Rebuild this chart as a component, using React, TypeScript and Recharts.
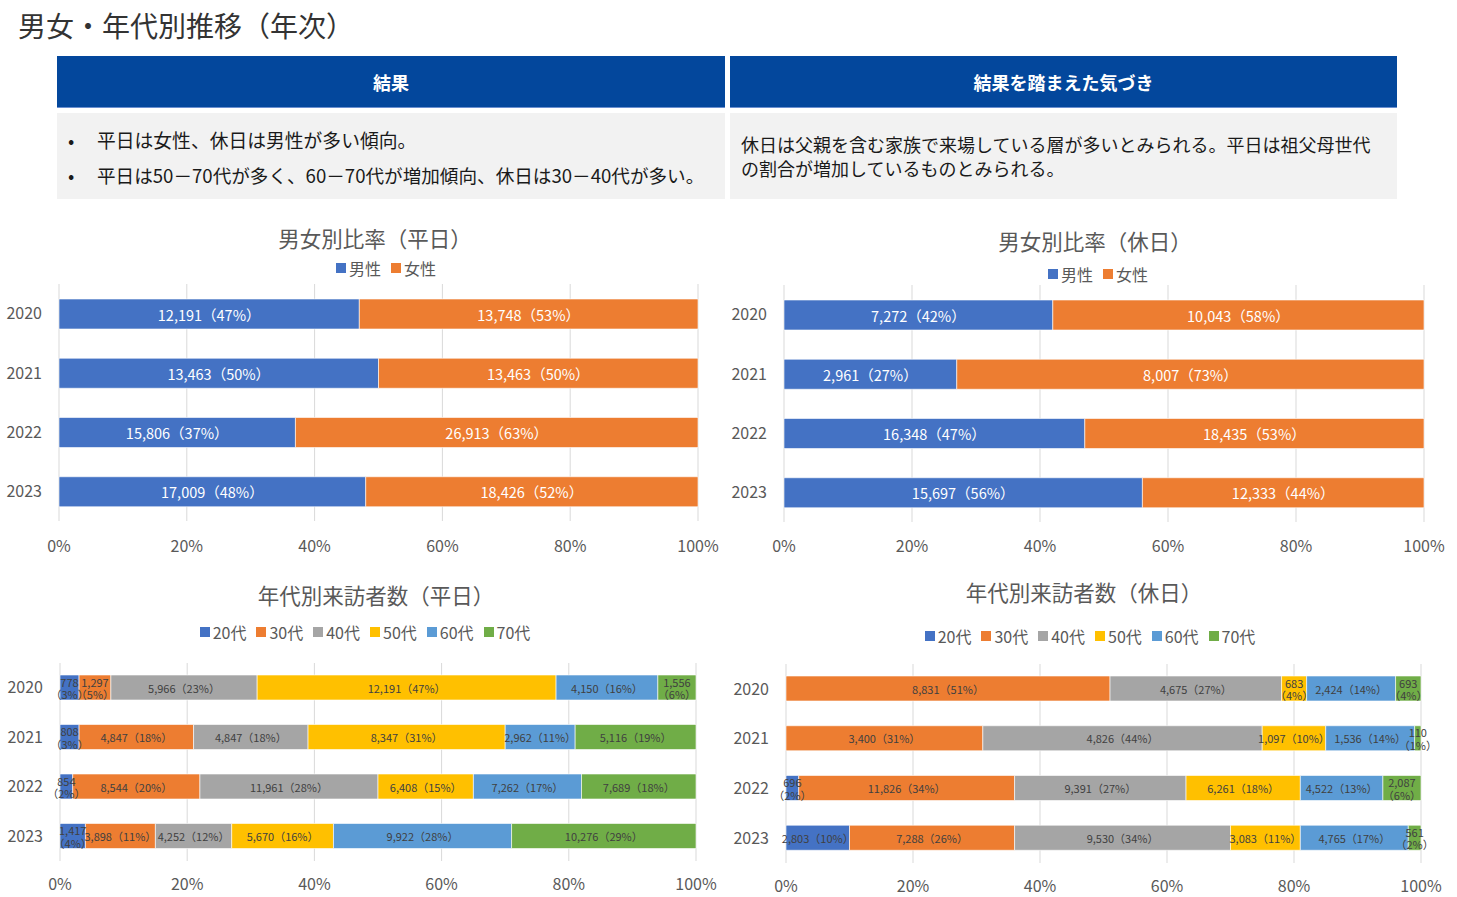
import React from 'react';
import { BarChart, Bar, XAxis, YAxis, CartesianGrid, LabelList } from 'recharts';

const FONT = "'Noto Sans CJK JP', 'Noto Sans', sans-serif";

// ---- data ----
const years = ['2020', '2021', '2022', '2023'];
const percentTicks = [0, 0.2, 0.4, 0.6, 0.8, 1];

const genderNames = ['男性', '女性'];
const weekdayMale = [12191, 13463, 15806, 17009];
const weekdayFemale = [13748, 13463, 26913, 18426];
const holidayMale = [7272, 2961, 16348, 15697];
const holidayFemale = [10043, 8007, 18435, 12333];

const ageNames = ['20代', '30代', '40代', '50代', '60代', '70代'];
const weekday20s = [778, 808, 854, 1417];
const weekday30s = [1297, 4847, 8544, 3898];
const weekday40s = [5966, 4847, 11961, 4252];
const weekday50s = [12191, 8347, 6408, 5670];
const weekday60s = [4150, 2962, 7262, 9922];
const weekday70s = [1556, 5116, 7689, 10276];
const holiday20s = [0, 0, 696, 2803];
const holiday30s = [8831, 3400, 11826, 7288];
const holiday40s = [4675, 4826, 9391, 9530];
const holiday50s = [683, 1097, 6261, 3083];
const holiday60s = [2424, 1536, 4522, 4765];
const holiday70s = [693, 110, 2087, 561];

const genderColors = ['#4472C4', '#ED7D31'];
const ageColors = ['#4472C4', '#ED7D31', '#A5A5A5', '#FFC000', '#5B9BD5', '#70AD47'];

type Row = { year: string; total: number; [k: string]: any };

function buildRows(series: number[][]): Row[] {
  return years.map((year, i) => {
    const row: Row = { year, total: 0 };
    series.forEach((s, j) => {
      row['s' + j] = s[i];
      row.total += s[i];
    });
    return row;
  });
}

const weekdayGenderRows = buildRows([weekdayMale, weekdayFemale]);
const holidayGenderRows = buildRows([holidayMale, holidayFemale]);
const weekdayAgeRows = buildRows([weekday20s, weekday30s, weekday40s, weekday50s, weekday60s, weekday70s]);
const holidayAgeRows = buildRows([holiday20s, holiday30s, holiday40s, holiday50s, holiday60s, holiday70s]);

function labelValue(row: Row, key: string): string {
  const v = row[key];
  if (!v) return '';
  const pct = Math.round((v / row.total) * 100);
  return `${v.toLocaleString('en-US')}|${pct}`;
}

function renderLabel(color: string, fontSize: number, wrapPct: number) {
  return (props: any) => {
    const val = props.value;
    if (!val || typeof val !== 'string') return null;
    const vb = props.viewBox && props.viewBox.width != null ? props.viewBox : props;
    const x = Number(vb.x), y = Number(vb.y), w = Number(vb.width), h = Number(vb.height);
    const [num, pctStr] = val.split('|');
    const pct = Number(pctStr);
    const cx = x + w / 2;
    const cy = y + h / 2;
    if (pct <= wrapPct) {
      return (
        <text textAnchor="middle" fill={color} fontSize={fontSize} fontFamily={FONT}>
          <tspan x={cx} y={cy - 6} dominantBaseline="central">{num}</tspan>
          <tspan x={cx} y={cy + 6.5} dominantBaseline="central">{`（${pct}%）`}</tspan>
        </text>
      );
    }
    return (
      <text x={cx} y={cy} textAnchor="middle" dominantBaseline="central" fill={color} fontSize={fontSize} fontFamily={FONT}>
        {`${num}（${pct}%）`}
      </text>
    );
  };
}

type ChartProps = {
  rows: Row[];
  names: string[];
  colors: string[];
  left: number;
  top: number;
  width: number;
  height: number;
  margin: { top: number; right: number; bottom: number; left: number };
  yWidth: number;
  barSize: number;
  labelColor: string;
  labelSize: number;
  wrapPct: number;
  xTickMargin: number;
};

function StackChart(p: ChartProps) {
  const tickStyle = { fill: '#595959', fontSize: 16, fontFamily: FONT };
  return (
    <div style={{ position: 'absolute', left: p.left, top: p.top, width: p.width, height: p.height }}>
      <BarChart width={p.width} height={p.height} data={p.rows} layout="vertical" stackOffset="expand" margin={p.margin}>
        <CartesianGrid horizontal={false} stroke="#d9d9d9" strokeWidth={1} />
        <XAxis
          type="number"
          domain={[0, 1]}
          ticks={percentTicks}
          interval={0}
          tickFormatter={(v: number) => `${Math.round(v * 100)}%`}
          axisLine={false}
          tickLine={false}
          tickSize={0}
          tickMargin={p.xTickMargin}
          height={30}
          tick={tickStyle}
        />
        <YAxis
          type="category"
          dataKey="year"
          width={p.yWidth}
          axisLine={false}
          tickLine={false}
          tickSize={0}
          tickMargin={17}
          tick={tickStyle}
        />
        {p.names.map((n, i) => (
          <Bar
            key={n}
            dataKey={'s' + i}
            name={n}
            stackId="a"
            fill={p.colors[i]}
            barSize={p.barSize}
            stroke="#ffffff"
            strokeWidth={0.6}
            isAnimationActive={false}
          >
            <LabelList
              dataKey={(r: Row) => labelValue(r, 's' + i)}
              content={renderLabel(p.labelColor, p.labelSize, p.wrapPct)}
            />
          </Bar>
        ))}
      </BarChart>
    </div>
  );
}

function ChartTitle({ text, cx, cy }: { text: string; cx: number; cy: number }) {
  return (
    <div
      style={{
        position: 'absolute',
        left: cx - 300,
        width: 600,
        top: cy - 15,
        height: 30,
        lineHeight: '30px',
        textAlign: 'center',
        fontSize: 21.5,
        color: '#595959',
        fontFamily: FONT,
        whiteSpace: 'nowrap',
      }}
    >
      {text}
    </div>
  );
}

function HtmlLegend({ names, colors, cx, cy }: { names: string[]; colors: string[]; cx: number; cy: number }) {
  return (
    <div
      style={{
        position: 'absolute',
        left: cx - 300,
        width: 600,
        top: cy - 12,
        height: 24,
        display: 'flex',
        justifyContent: 'center',
        alignItems: 'center',
        fontSize: 16,
        color: '#595959',
        fontFamily: FONT,
        whiteSpace: 'nowrap',
      }}
    >
      {names.map((n, i) => (
        <span
          key={n}
          style={{ display: 'inline-flex', alignItems: 'center', marginRight: i < names.length - 1 ? 10 : 0 }}
        >
          <span style={{ display: 'inline-block', width: 10, height: 10, background: colors[i], marginRight: 3 }} />
          {n}
        </span>
      ))}
    </div>
  );
}

export default function App() {
  const headerStyle: React.CSSProperties = {
    position: 'absolute',
    top: 56,
    height: 52,
    background: '#03479C',
    color: '#ffffff',
    fontWeight: 'bold',
    fontSize: 18,
    display: 'flex',
    alignItems: 'center',
    justifyContent: 'center',
    fontFamily: FONT,
    boxSizing: 'border-box',
    borderBottom: '1px solid #6a8fd0',
  };
  const bodyStyle: React.CSSProperties = {
    position: 'absolute',
    top: 113,
    height: 86,
    background: '#F2F2F2',
    fontFamily: FONT,
    color: '#1a1a1a',
  };
  return (
    <div
      style={{
        position: 'absolute',
        left: 0,
        top: 0,
        width: 1457,
        height: 897,
        background: '#ffffff',
        overflow: 'hidden',
        fontFamily: FONT,
      }}
    >
      <div
        style={{
          position: 'absolute',
          left: 18,
          top: 6,
          fontSize: 28,
          lineHeight: '38px',
          color: '#333333',
          whiteSpace: 'nowrap',
        }}
      >
        男女・年代別推移（年次）
      </div>

      <div style={{ ...headerStyle, left: 57, width: 668 }}>結果</div>
      <div style={{ ...headerStyle, left: 730, width: 667 }}>結果を踏まえた気づき</div>

      <div style={{ ...bodyStyle, left: 57, width: 668 }}>
        <div style={{ position: 'absolute', left: 11, top: 14, fontSize: 18.5, lineHeight: '26px' }}>•</div>
        <div style={{ position: 'absolute', left: 40, top: 14, fontSize: 18.8, lineHeight: '26px', whiteSpace: 'nowrap' }}>
          平日は女性、休日は男性が多い傾向。
        </div>
        <div style={{ position: 'absolute', left: 11, top: 49, fontSize: 18.5, lineHeight: '26px' }}>•</div>
        <div style={{ position: 'absolute', left: 40, top: 49, fontSize: 18.6, lineHeight: '26px', whiteSpace: 'nowrap' }}>
          平日は50－70代が多く、60－70代が増加傾向、休日は30－40代が多い。
        </div>
      </div>
      <div style={{ ...bodyStyle, left: 730, width: 667 }}>
        <div style={{ position: 'absolute', left: 11, top: 19, fontSize: 18, lineHeight: '24px', whiteSpace: 'nowrap' }}>
          休日は父親を含む家族で来場している層が多いとみられる。平日は祖父母世代
          <br />
          の割合が増加しているものとみられる。
        </div>
      </div>

      <ChartTitle text="男女別比率（平日）" cx={375} cy={238} />
      <HtmlLegend names={genderNames} colors={genderColors} cx={386} cy={268} />
      <StackChart
        rows={weekdayGenderRows}
        names={genderNames}
        colors={genderColors}
        left={0}
        top={280}
        width={730}
        height={290}
        margin={{ top: 4, right: 32, bottom: 19, left: 0 }}
        yWidth={59}
        barSize={30}
        labelColor="#ffffff"
        labelSize={14.5}
        wrapPct={0}
        xTickMargin={20}
      />

      <ChartTitle text="男女別比率（休日）" cx={1095} cy={241} />
      <HtmlLegend names={genderNames} colors={genderColors} cx={1098} cy={274} />
      <StackChart
        rows={holidayGenderRows}
        names={genderNames}
        colors={genderColors}
        left={725}
        top={280}
        width={730}
        height={290}
        margin={{ top: 5, right: 31, bottom: 18, left: 0 }}
        yWidth={59}
        barSize={30}
        labelColor="#ffffff"
        labelSize={14.5}
        wrapPct={0}
        xTickMargin={19}
      />

      <ChartTitle text="年代別来訪者数（平日）" cx={376} cy={595} />
      <HtmlLegend names={ageNames} colors={ageColors} cx={365} cy={632} />
      <StackChart
        rows={weekdayAgeRows}
        names={ageNames}
        colors={ageColors}
        left={0}
        top={655}
        width={730}
        height={242}
        margin={{ top: 8, right: 34, bottom: 6, left: 0 }}
        yWidth={60}
        barSize={25}
        labelColor="#404040"
        labelSize={11}
        wrapPct={6}
        xTickMargin={18}
      />

      <ChartTitle text="年代別来訪者数（休日）" cx={1084} cy={592} />
      <HtmlLegend names={ageNames} colors={ageColors} cx={1090} cy={636} />
      <StackChart
        rows={holidayAgeRows}
        names={ageNames}
        colors={ageColors}
        left={725}
        top={655}
        width={730}
        height={242}
        margin={{ top: 9, right: 34, bottom: 4, left: 0 }}
        yWidth={61}
        barSize={25}
        labelColor="#404040"
        labelSize={11}
        wrapPct={6}
        xTickMargin={18}
      />
    </div>
  );
}
